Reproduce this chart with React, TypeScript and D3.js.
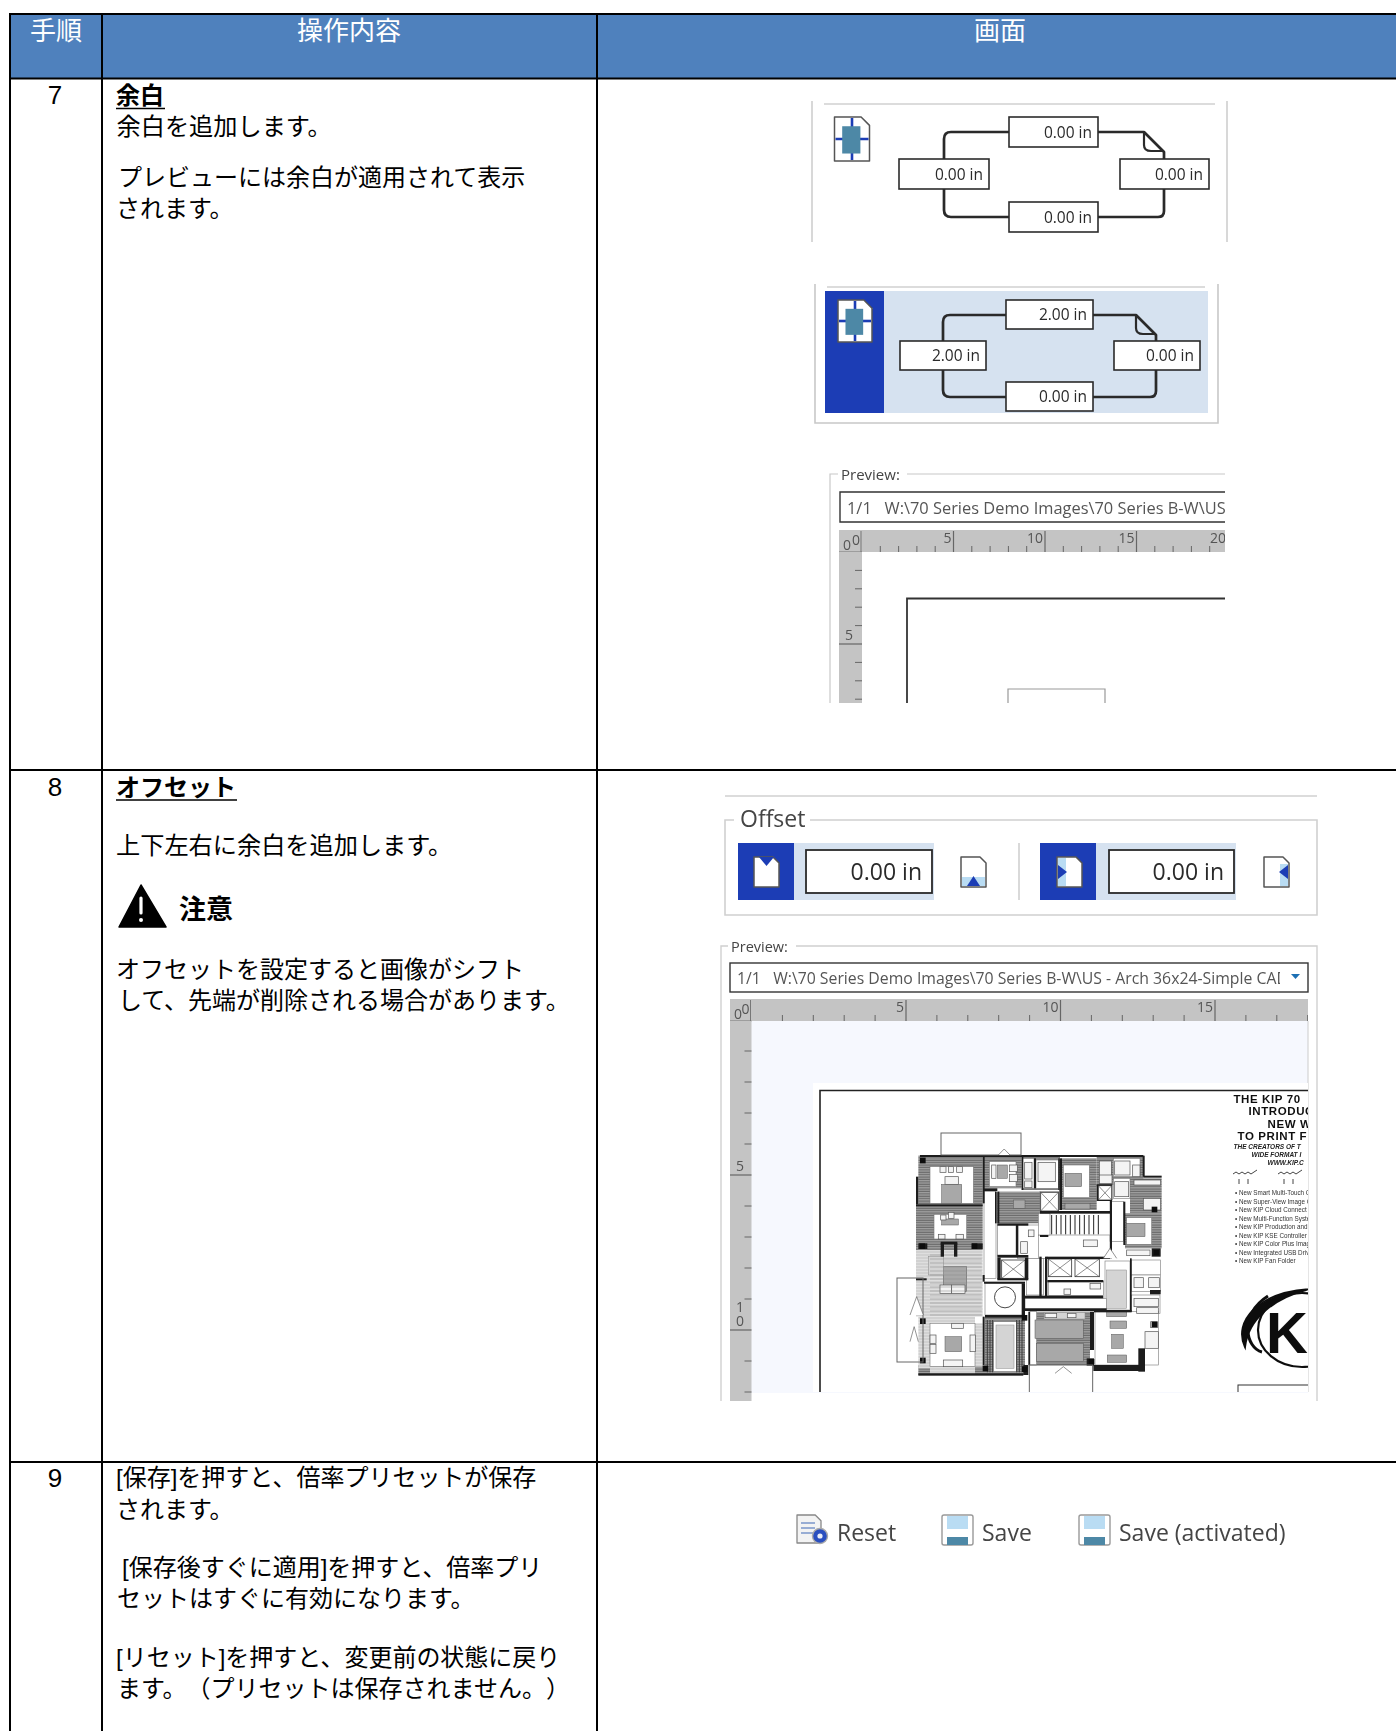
import React from "react";
import * as d3 from "d3";

const W = 1396, H = 1731;
const FONT = '"Liberation Sans","Noto Sans CJK JP",sans-serif';
const UI = '"Open Sans","Noto Sans",sans-serif';

const headerLabels = ["手順", "操作内容", "画面"];
const stepNumbers = ["7", "8", "9"];
const step7Heading = "余白";
const step7Lines = ["余白を追加します。", "プレビューには余白が適用されて表示", "されます。"];
const step8Heading = "オフセット";
const step8Lines = ["上下左右に余白を追加します。", "オフセットを設定すると画像がシフト", "して、先端が削除される場合があります。"];
const cautionLabel = "注意";
const step9Lines = ["[保存]を押すと、倍率プリセットが保存", "されます。", "[保存後すぐに適用]を押すと、倍率プリ", "セットはすぐに有効になります。", "[リセット]を押すと、変更前の状態に戻り", "ます。（プリセットは保存されません。）"];
const marginsA = ["0.00 in", "0.00 in", "0.00 in", "0.00 in"];
const marginsB = ["2.00 in", "2.00 in", "0.00 in", "0.00 in"];
const offsetValues = ["0.00 in", "0.00 in"];
const previewPathShort = "1/1   W:\\70 Series Demo Images\\70 Series B-W\\US";
const previewPathLong = "1/1   W:\\70 Series Demo Images\\70 Series B-W\\US - Arch 36x24-Simple CAD";
const actionLabels = ["Reset", "Save", "Save (activated)"];
const kipTitle = ["THE KIP 70", "INTRODUC", "NEW W", "TO PRINT FF"];
const kipSub = ["THE CREATORS OF T", "WIDE FORMAT I", "WWW.KIP.C"];
const kipBullets = ["New Smart Multi-Touch C", "New Super-View Image C", "New KIP Cloud Connect", "New Multi-Function Syste", "New KIP Production and", "New KIP KSE Controller a", "New KIP Color Plus Imag", "New Integrated USB Driv", "New KIP Fan Folder"];

// floor plan, in plan units: x0,y0,x1,y1
const planHatch = [[25,62,218,208],[18,208,218,345],[222,62,335,160],[262,170,390,265],[455,70,560,225],[560,65,700,150],[660,130,755,235],[645,235,755,340],[225,545,345,720],[360,530,540,690],[25,690,345,720],[335,62,450,165]];
const planLight = [[18,345,218,545],[25,545,60,700],[195,565,218,695],[60,545,195,565],[60,695,195,715]];
const planWhite = [[60,95,190,205],[72,238,170,312],[238,80,318,155],[338,70,372,160],[378,75,445,160],[460,90,538,188],[650,248,725,328],[565,150,607,195],[610,130,660,190],[610,70,690,125],[390,170,445,228],[262,270,318,360],[322,270,400,370],[385,300,600,370],[350,370,400,480],[415,440,580,482],[585,378,660,525],[665,375,752,420],[665,420,752,470],[665,480,750,535],[555,530,745,690],[60,565,195,695],[225,445,340,540],[222,170,258,430],[385,235,420,300],[600,200,640,320],[345,490,590,522],[360,530,380,690],[250,560,320,710]];
const planMid = [[100,395,170,470],[95,148,155,205],[95,252,145,270],[105,605,155,650],[605,598,640,640],[465,115,515,155],[650,265,705,305],[375,555,520,610],[380,625,520,680],[310,195,345,220],[262,90,292,130],[600,558,650,580],[592,660,650,682],[465,205,540,222],[590,530,650,545]];
const planPale = [[258,570,312,700],[402,532,525,552],[590,405,650,520],[55,365,100,420]];
const planFixtures = [[90,95,108,112],[115,95,130,112],[140,95,157,112],[105,125,145,148],[92,240,108,255],[115,232,132,250],[85,298,105,312],[138,298,160,312],[90,450,125,475],[125,450,165,475],[125,565,160,580],[100,675,158,695],[60,600,78,625],[60,628,78,655],[180,600,196,650],[245,90,258,130],[298,90,322,110],[298,118,322,140],[344,82,366,132],[384,82,436,140],[344,138,366,158],[568,78,604,122],[614,78,660,120],[668,90,690,125],[568,120,606,146],[614,140,656,185],[672,135,752,150],[700,190,752,225],[650,345,720,362],[672,428,700,458],[716,428,748,458],[672,490,745,515],[680,518,745,535],[405,535,440,548],[472,535,498,548],[705,590,745,640],[722,560,742,578],[355,285,372,305],[332,320,352,355],[520,315,562,335],[462,462,482,478],[540,445,572,462],[605,405,605,520]];
const planWalls = [[30,60,700,66],[448,70,456,225],[218,65,224,205],[698,62,704,125],[700,122,755,128],[255,170,260,265],[262,170,268,265],[262,265,355,272],[318,270,325,360],[262,360,355,368],[262,368,272,432],[345,368,355,432],[262,430,355,436],[92,325,102,365],[132,325,142,365],[92,320,142,328],[185,325,218,342],[25,325,52,342],[388,365,395,485],[405,365,412,485],[410,365,600,372],[412,435,580,442],[340,482,580,490],[345,520,590,528],[540,530,552,645],[355,530,360,690],[340,690,355,720],[685,640,705,710],[530,670,552,692],[18,430,50,436],[720,465,752,478],[225,540,340,548],[218,420,224,440],[218,545,224,690],[25,715,340,722],[335,66,340,165],[372,70,378,160],[445,70,448,165],[18,125,25,208],[18,208,218,214],[390,228,600,236],[390,300,415,306],[600,195,606,370],[640,200,646,330],[560,148,606,152],[560,150,564,195],[560,195,606,198],[725,340,752,365],[552,525,665,532],[660,370,665,530],[550,690,690,708],[222,440,345,446],[335,445,345,545],[222,160,262,168]];
const planColumns = [[30,68],[28,325],[30,550],[30,668],[218,692],[725,560],[730,345],[725,215],[335,540],[336,694],[536,672],[185,325]];
const planElevators = [[275,375,345,430],[415,372,485,425],[495,372,568,425],[392,172,445,228],[565,152,605,195]];
const planOutlines = [[93,-6,333,60],[-39,429,39,681],[358,690,548,775]];
const planStairX = [425,439,453,467,481,495,509,523,537,551,565];
const planStripeY = [360,372,384,396,408,420,432,444,456,468,480,492,504,516,528,540];
const planStripeX = [232,240,248,320,328,336];
const planDoors = [[265,42,300,60],[580,340,620,370],[0,485,40,540],[0,575,25,620],[435,695,485,715]];

const logoGlyphXs = [1233, 1278];

const FoldedPage = ({ x, y, w, h, fill = "#fff", stroke = "#555", sw = 1.5 }: any) => {
  const f = Math.min(w, h) * 0.24;
  return <path d={`M${x},${y}H${x + w - f}L${x + w},${y + f}V${y + h}H${x}Z`} fill={fill} stroke={stroke} strokeWidth={sw} strokeLinejoin="round" />;
};

const MarginIcon = ({ x, y, w, h }: any) => (
  <g>
    <FoldedPage x={x} y={y} w={w} h={h} />
    <line x1={x + w / 2} x2={x + w / 2} y1={y + 1} y2={y + h - 1} stroke="#1c3db5" strokeWidth={2.6} />
    <line x1={x + 1} x2={x + w - 1} y1={y + h / 2} y2={y + h / 2} stroke="#1c3db5" strokeWidth={2.6} />
    <rect x={x + w * 0.22} y={y + h * 0.21} width={w * 0.52} height={h * 0.62} fill="#4d88a6" />
  </g>
);

const PageOutline = ({ x0, y0, x1, y1 }: any) => (
  <g fill="none" stroke="#2a2a2a" strokeWidth={2.7} strokeLinejoin="round">
    <path d={`M${x0 + 7},${y0}H${x1 - 20}L${x1},${y0 + 20}V${y1 - 6}Q${x1},${y1} ${x1 - 6},${y1}H${x0 + 7}Q${x0},${y1} ${x0},${y1 - 7}V${y0 + 7}Q${x0},${y0} ${x0 + 7},${y0}Z`} />
    <path d={`M${x1 - 20},${y0}V${y0 + 13}Q${x1 - 20},${y0 + 19} ${x1 - 13},${y0 + 19}H${x1}`} strokeWidth={2.2} />
  </g>
);

const ValueBox = ({ x0, y0, x1, y1, label, size = 15.5, pad = 6, sw = 1.6 }: any) => (
  <g>
    <rect x={x0} y={y0} width={x1 - x0} height={y1 - y0} fill="#fff" stroke="#2a2a2a" strokeWidth={sw} />
    <text x={x1 - pad} y={(y0 + y1) / 2 + size * 0.36} textAnchor="end" fontFamily={UI} fontSize={size} fill="#2a2a2a">{label}</text>
  </g>
);

const HRuler = ({ x0, x1, y0, y1, gutter, scale, max, labelSize = 14 }: any) => (
  <g>
    <rect x={x0} y={y0} width={x1 - x0} height={y1 - y0} fill="#c4c4c4" />
    <line x1={x0} x2={x0 + gutter} y1={y1} y2={y1} stroke="#777" strokeWidth={1} />
    <line x1={x0 + gutter - 1} x2={x0 + gutter - 1} y1={y0 + 1} y2={y1} stroke="#777" strokeWidth={1} />
    <text x={x0 + 4} y={y1 - 2} fontFamily={UI} fontSize={labelSize} fill="#555">0</text>
    <text x={x0 + gutter - 10} y={y1 - 7} fontFamily={UI} fontSize={labelSize} fill="#555">0</text>
    {d3.range(1, max + 1).map(u => u % 5 === 0 ? (
      <g key={u}>
        <line x1={scale(u)} x2={scale(u)} y1={y0 + 1} y2={y1} stroke="#666" strokeWidth={1.2} />
        <text x={scale(u) - 2} y={y0 + 13} textAnchor="end" fontFamily={UI} fontSize={labelSize} fill="#555">{u}</text>
      </g>
    ) : <line key={u} x1={scale(u)} x2={scale(u)} y1={y1 - 6} y2={y1} stroke="#666" strokeWidth={1} />)}
  </g>
);

const VRuler = ({ x0, gutter, y0, y1, scale, max, labelSize = 14 }: any) => (
  <g>
    <rect x={x0} y={y0} width={gutter} height={y1 - y0} fill="#c4c4c4" />
    {d3.range(1, max + 1).map(u => u % 5 === 0 ? (
      <g key={u}>
        <line x1={x0} x2={x0 + gutter} y1={scale(u)} y2={scale(u)} stroke="#666" strokeWidth={1.2} />
        {String(u).split("").map((c, i, a) => (
          <text key={i} x={x0 + 6} y={scale(u) - 4 - (a.length - 1 - i) * 14} fontFamily={UI} fontSize={labelSize} fill="#555">{c}</text>
        ))}
      </g>
    ) : <line key={u} x1={x0 + gutter - 7} x2={x0 + gutter} y1={scale(u)} y2={scale(u)} stroke="#666" strokeWidth={1} />)}
  </g>
);

const FloorPlan = () => {
  const px = d3.scaleLinear().domain([0, 780]).range([910, 1170]);
  const py = d3.scaleLinear().domain([0, 750]).range([1135, 1385]);
  const R = (r: number[], p: any, k: number) => (
    <rect key={k} x={px(r[0])} y={py(r[1])} width={px(r[2]) - px(r[0])} height={py(r[3]) - py(r[1])} {...p} />
  );
  return (
    <g>
      {planHatch.map((r, i) => R(r, { fill: "url(#hatch)" }, i))}
      {planLight.map((r, i) => R(r, { fill: "url(#hatchLight)" }, i))}
      {planWhite.map((r, i) => R(r, { fill: "#fff", stroke: "#777", strokeWidth: 0.6 }, i))}
      {planMid.map((r, i) => R(r, { fill: "#a8a8a8", stroke: "#555", strokeWidth: 0.5 }, i))}
      {planPale.map((r, i) => R(r, { fill: "#d4d4d4", stroke: "#888", strokeWidth: 0.5 }, i))}
      {planFixtures.map((r, i) => R(r, { fill: "#f4f4f4", stroke: "#555", strokeWidth: 0.7 }, i))}
      {planStripeY.map(y => <line key={y} x1={px(60)} x2={px(215)} y1={py(y)} y2={py(y)} stroke="#888" strokeWidth={0.5} />)}
      {planStripeX.map(x => <line key={x} x1={px(x)} x2={px(x)} y1={py(555)} y2={py(712)} stroke="#333" strokeWidth={0.9} />)}
      {planStairX.map(x => <line key={x} x1={px(x)} x2={px(x)} y1={py(240)} y2={py(298)} stroke="#222" strokeWidth={1} />)}
      {planElevators.map((r, i) => (
        <g key={i}>
          {R(r, { fill: "#fff", stroke: "#333", strokeWidth: 0.8 }, i)}
          <path d={`M${px(r[0])},${py(r[1])}L${px(r[2])},${py(r[3])}M${px(r[2])},${py(r[1])}L${px(r[0])},${py(r[3])}`} stroke="#444" strokeWidth={0.6} />
        </g>
      ))}
      {planWalls.map((r, i) => R(r, { fill: "#1c1c1c" }, i))}
      {planColumns.map((c, i) => R([c[0], c[1], c[0] + 17, c[1] + 17], { fill: "#111" }, i))}
      {planOutlines.map((r, i) => R(r, { fill: "none", stroke: "#666", strokeWidth: 1 }, i))}
      {planDoors.map((r, i) => (
        <path key={i} d={`M${px(r[0])},${py(r[3])}L${px((r[0] + r[2]) / 2)},${py(r[1])}L${px(r[2])},${py(r[3])}`} fill="#fff" stroke="#666" strokeWidth={0.7} />
      ))}
      <circle cx={px(285)} cy={py(487)} r={10.5} fill="#fff" stroke="#333" strokeWidth={0.9} />
    </g>
  );
};

const KipSheet = () => {
  const titleX = [1233.5, 1248.5, 1267.5, 1237.5];
  const subX = [1233.5, 1251.5, 1267.5];
  return (
    <g>
      {kipTitle.map((t, i) => <text key={t} x={titleX[i]} y={1102.5 + i * 12.5} fontFamily={FONT} fontWeight={700} fontSize={11.5} letterSpacing={0.6} fill="#111">{t}</text>)}
      {kipSub.map((t, i) => <text key={t} x={subX[i]} y={1149 + i * 8} fontFamily={FONT} fontWeight={700} fontStyle="italic" fontSize={6.5} fill="#222">{t}</text>)}
      {logoGlyphXs.map(x => (
        <path key={x} d={`M${x},1174l3,-2l3,2l3,-2l3,2l3,-2l3,2l3,-2l3,-2M${x + 6},1179v5M${x + 15},1179v5`} fill="none" stroke="#444" strokeWidth={1} />
      ))}
      {kipBullets.map((t, i) => <text key={t} x={1235} y={1195 + i * 8.55} fontFamily={FONT} fontSize={6.3} fill="#333">• {t}</text>)}
      <path d="M1245,1347C1233,1322 1258,1292 1310,1289C1272,1298 1248,1320 1245,1347Z" fill="#111" stroke="#111" strokeWidth={2} />
      <path d="M1268,1296C1238,1315 1246,1348 1262,1352" fill="none" stroke="#111" strokeWidth={3} />
      <ellipse cx={1302} cy={1330} rx={44} ry={37} fill="none" stroke="#111" strokeWidth={2.2} />
      <text x={1266} y={1353} fontFamily={FONT} fontWeight={700} fontSize={58} fill="#111">KI</text>
      <rect x={1238} y={1385} width={120} height={30} fill="none" stroke="#333" strokeWidth={1} />
    </g>
  );
};

export default function App() {
  const rulerAx = d3.scaleLinear().domain([0, 5]).range([862, 953.5]);
  const rulerAy = d3.scaleLinear().domain([0, 5]).range([552, 644]);
  const rulerBx = d3.scaleLinear().domain([0, 5]).range([751.5, 906]);
  const rulerBy = d3.scaleLinear().domain([0, 5]).range([1020, 1175]);
  const gridX = [10, 102, 597];
  const gridY = [14, 78.5, 770, 1462];
  return (
    <svg width={W} height={H} viewBox={`0 0 ${W} ${H}`} style={{ position: "absolute", left: 0, top: 0, display: "block", background: "#fff", textSpacingTrim: "space-all" } as any}>
      <defs>
        <filter id="soft" x="-2%" y="-2%" width="104%" height="104%"><feGaussianBlur stdDeviation="0.55" /></filter>
        <pattern id="hatch" width="2.4" height="2.4" patternUnits="userSpaceOnUse">
          <rect width="2.4" height="2.4" fill="#a0a0a0" />
          <line x1="0" x2="2.4" y1="1" y2="1" stroke="#5c5c5c" strokeWidth="0.9" />
        </pattern>
        <pattern id="hatchLight" width="3" height="3" patternUnits="userSpaceOnUse">
          <rect width="3" height="3" fill="#dedede" />
          <line x1="0" x2="3" y1="1" y2="1" stroke="#aaa" strokeWidth="0.5" />
        </pattern>
        <clipPath id="clipA"><rect x={830} y={525} width={395} height={178} /></clipPath>
        <clipPath id="clipB"><rect x={721} y={940} width={587} height={452} /></clipPath>
        <clipPath id="clipB2"><rect x={721} y={995} width={587} height={406} /></clipPath>
        <clipPath id="clipPathText"><rect x={733} y={965} width={547} height={26} /></clipPath>
      </defs>

      <rect x={gridX[0]} y={gridY[0]} width={W - gridX[0]} height={gridY[1] - gridY[0]} fill="#4f81bd" />

      {/* step 7 images */}
      <g filter="url(#soft)">
        <path d="M812,101V242M1227,101V242" stroke="#c8c8c8" strokeWidth={1.4} fill="none" />
        <line x1={824} x2={1215} y1={104} y2={104} stroke="#d0d0d0" strokeWidth={1.4} />
        <MarginIcon x={834.5} y={117} w={35} h={44} />
        <PageOutline x0={944} y0={132} x1={1164} y1={217} />
        <ValueBox x0={1009} y0={117} x1={1098} y1={147} label={marginsA[0]} />
        <ValueBox x0={899} y0={159} x1={989} y1={189} label={marginsA[1]} />
        <ValueBox x0={1120} y0={159} x1={1209} y1={189} label={marginsA[2]} />
        <ValueBox x0={1009} y0={202} x1={1098} y1={232} label={marginsA[3]} />

        <path d="M815,284V423H1218V284" stroke="#c8c8c8" strokeWidth={1.6} fill="none" />
        <line x1={827} x2={1205} y1={287} y2={287} stroke="#d0d0d0" strokeWidth={1.4} />
        <rect x={825} y={291} width={59} height={122} fill="#1c3db5" />
        <rect x={884} y={291} width={324} height={122} fill="#d6e2f0" />
        <MarginIcon x={838} y={300} w={34} h={42} />
        <PageOutline x0={943} y0={315} x1={1156} y1={397} />
        <ValueBox x0={1006} y0={300} x1={1093} y1={329} label={marginsB[0]} />
        <ValueBox x0={900} y0={341} x1={986} y1={370} label={marginsB[1]} />
        <ValueBox x0={1114} y0={341} x1={1200} y1={370} label={marginsB[2]} />
        <ValueBox x0={1006} y0={382} x1={1093} y1={411} label={marginsB[3]} />

        <path d="M830,703V474H838M907,474H1225" stroke="#c8c8c8" strokeWidth={1.2} fill="none" />
        <text x={841} y={480} fontFamily={UI} fontSize={15} fill="#444">Preview:</text>
        <path d="M1225,492H840V522H1225" fill="#fff" stroke="#333" strokeWidth={1.4} />
        <text x={847} y={514} fontFamily={UI} fontSize={16.4} fill="#555" style={{ whiteSpace: "pre" }}>{previewPathShort}</text>
        <g clipPath="url(#clipA)">
          <HRuler x0={839} x1={1225} y0={530} y1={552} gutter={23} scale={rulerAx} max={20} />
          <VRuler x0={839} gutter={23} y0={552} y1={703} scale={rulerAy} max={8} />
          <path d="M907,710V598.5H1240" fill="none" stroke="#333" strokeWidth={1.8} />
          <path d="M1008,710V689H1105V710" fill="none" stroke="#999" strokeWidth={1.2} />
        </g>
      </g>

      {/* step 8 images */}
      <g filter="url(#soft)">
        <line x1={725} x2={1317} y1={796} y2={796} stroke="#d0d0d0" strokeWidth={1.6} />
        <path d="M734,820H725V915H1317V820H810" fill="none" stroke="#d0d0d0" strokeWidth={1.6} />
        <text x={740} y={827} fontFamily={UI} fontSize={23} fill="#444">Offset</text>
        <rect x={738} y={843} width={196} height={57} fill="#d6e2f0" />
        <rect x={738} y={843} width={56} height={57} fill="#1c3db5" />
        <ValueBox x0={806} y0={850} x1={932} y1={893} label={offsetValues[0]} size={23} pad={10} sw={1.8} />
        <FoldedPage x={754} y={857} w={25} h={30} />
        <path d="M759,857H774L766.5,866Z" fill="#1c3db5" />
        <FoldedPage x={961} y={857} w={25} h={30} />
        <rect x={962} y={877} width={23} height={9} fill="#b9dcf3" />
        <path d="M967,886H980L973.5,876Z" fill="#1c3db5" />
        <line x1={1019} x2={1019} y1={843} y2={900} stroke="#d0d0d0" strokeWidth={1.6} />
        <rect x={1040} y={843} width={196} height={57} fill="#d6e2f0" />
        <rect x={1040} y={843} width={56} height={57} fill="#1c3db5" />
        <ValueBox x0={1109} y0={850} x1={1234} y1={893} label={offsetValues[1]} size={23} pad={10} sw={1.8} />
        <FoldedPage x={1057} y={857} w={25} h={30} />
        <rect x={1058} y={858} width={8} height={28} fill="#b9dcf3" />
        <path d="M1058,865V879L1067,872Z" fill="#1c3db5" />
        <FoldedPage x={1264} y={857} w={25} h={30} />
        <rect x={1280} y={864} width={8} height={22} fill="#b9dcf3" />
        <path d="M1288,865V879L1279,872Z" fill="#1c3db5" />

        <path d="M721,1401V946H728M796,946H1317V1401" fill="none" stroke="#d0d0d0" strokeWidth={1.4} />
        <text x={731} y={952} fontFamily={UI} fontSize={14.5} fill="#444">Preview:</text>
        <rect x={730} y={963} width={578} height={29} fill="#fff" stroke="#333" strokeWidth={1.4} />
        <g clipPath="url(#clipPathText)">
          <text x={737} y={984} fontFamily={UI} fontSize={15.8} fill="#555" style={{ whiteSpace: "pre" }}>{previewPathLong}</text>
        </g>
        <path d="M1291,974H1300L1295.5,979Z" fill="#1f6fb4" />
        <rect x={751} y={1021} width={557} height={372} fill="#f6f8fe" />
        <line x1={1308} x2={1308} y1={1021} y2={1392} stroke="#ccc" strokeWidth={1} />
        <g clipPath="url(#clipB2)">
          <HRuler x0={730} x1={1308} y0={999} y1={1021} gutter={21.5} scale={rulerBx} max={18} />
          <VRuler x0={730} gutter={21.5} y0={1021} y1={1401} scale={rulerBy} max={12} />
        </g>
        <g clipPath="url(#clipB)">
          <rect x={813} y={1083} width={495} height={310} fill="#fff" />
          <path d="M820,1400V1090.5H1320" fill="none" stroke="#222" strokeWidth={1.6} />
          <FloorPlan />
          <KipSheet />
        </g>
      </g>

      {/* step 9 images */}
      <g filter="url(#soft)">
        <g>
          <FoldedPage x={797} y={1515} w={24} h={28} fill="#f3f3f3" stroke="#888" sw={1.3} />
          {[1523, 1528, 1533].map(y => <line key={y} x1={801} x2={815} y1={y} y2={y} stroke="#5b7fbf" strokeWidth={1.2} />)}
          <circle cx={820} cy={1536} r={7.5} fill="#2b4fc0" stroke="#aaa" strokeWidth={1.4} />
          <circle cx={820} cy={1536} r={2.6} fill="#eaeef8" />
        </g>
        <text x={837} y={1541} fontFamily={UI} fontSize={23} fill="#444">{actionLabels[0]}</text>
        {[942, 1079].map(x => (
          <g key={x}>
            <rect x={x} y={1515} width={31} height={30} rx={2} fill="#fff" stroke="#999" strokeWidth={1.4} />
            <rect x={x + 5} y={1516} width={21} height={13} fill="#b9dcf3" />
            <rect x={x + 5} y={1537} width={21} height={8} fill="#4d88a6" />
          </g>
        ))}
        <text x={982} y={1541} fontFamily={UI} fontSize={23} fill="#444">{actionLabels[1]}</text>
        <text x={1119} y={1541} fontFamily={UI} fontSize={23} fill="#444">{actionLabels[2]}</text>
      </g>

      {/* grid */}
      <g stroke="#000" strokeWidth={2} fill="none">
        {gridX.map(x => <line key={x} x1={x} x2={x} y1={gridY[0] - 1} y2={H} />)}
        {gridY.map(y => <line key={y} x1={gridX[0] - 1} x2={W} y1={y} y2={y} />)}
      </g>

      {/* header */}
      <g fontFamily={FONT} fontSize={26} fill="#fff" textAnchor="middle">
        <text x={56} y={40}>{headerLabels[0]}</text>
        <text x={349} y={40}>{headerLabels[1]}</text>
        <text x={1000} y={40}>{headerLabels[2]}</text>
      </g>

      {/* step text */}
      <g fontFamily={FONT} fontSize={26} fill="#000" textAnchor="middle">
        <text x={55} y={104}>{stepNumbers[0]}</text>
        <text x={55} y={796}>{stepNumbers[1]}</text>
        <text x={55} y={1487}>{stepNumbers[2]}</text>
      </g>
      <g fontFamily={FONT} fontSize={24} fill="#000">
        <text x={116} y={104} fontWeight={700}>{step7Heading}</text>
        <line x1={116} x2={165} y1={108.5} y2={108.5} stroke="#000" strokeWidth={1.6} />
        <text x={116.5} y={135} fontSize={24.2}>{step7Lines[0]}</text>
        <text x={118} y={186}>{step7Lines[1]}</text>
        <text x={116} y={217}>{step7Lines[2]}</text>

        <text x={116} y={796} fontWeight={700}>{step8Heading}</text>
        <line x1={116} x2={237} y1={800} y2={800} stroke="#000" strokeWidth={1.6} />
        <text x={116} y={854} fontSize={24.2}>{step8Lines[0]}</text>
        <path d="M141,885L166,927H119Z" fill="#000" stroke="#000" strokeLinejoin="round" strokeWidth={1.5} />
        <path d="M141,898V913" stroke="#fff" strokeWidth={3.2} strokeLinecap="round" />
        <circle cx={141} cy={920} r={2} fill="#fff" />
        <text x={179} y={919} fontWeight={700} fontSize={27}>{cautionLabel}</text>
        <text x={116} y={978}>{step8Lines[1]}</text>
        <text x={118} y={1009}>{step8Lines[2]}</text>

        <text x={116} y={1486}>{step9Lines[0]}</text>
        <text x={116} y={1518}>{step9Lines[1]}</text>
        <text x={122} y={1576}>{step9Lines[2]}</text>
        <text x={117} y={1607}>{step9Lines[3]}</text>
        <text x={116} y={1666}>{step9Lines[4]}</text>
        <text x={117} y={1697}>{step9Lines[5]}</text>
      </g>
    </svg>
  );
}
